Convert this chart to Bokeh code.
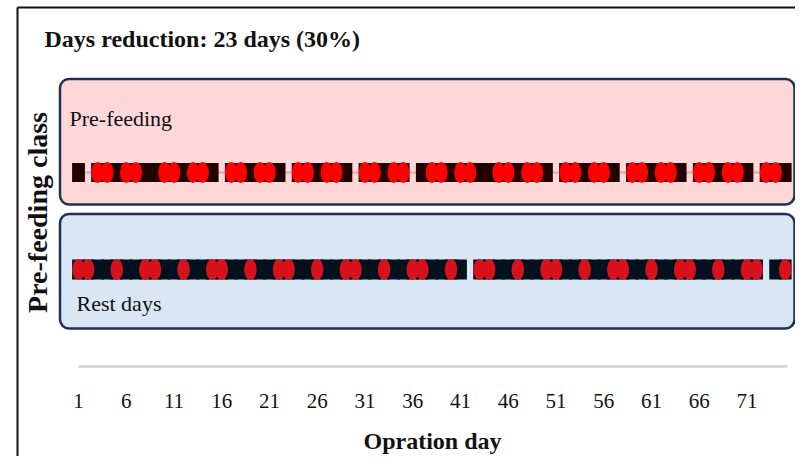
import math
from bokeh.plotting import figure
from bokeh.models import Range1d, FixedTicker
from bokeh.core.properties import value
from bokeh.embed import file_html
from bokeh.resources import INLINE

# ---------------- data ----------------
title_text = "Days reduction:  23 days (30%)"
y_axis_title = "Pre-feeding class"
x_axis_title = "Opration day"
class_labels = ["Pre-feeding", "Rest days"]
class_rows = [1, 0]

tick_days = [1, 6, 11, 16, 21, 26, 31, 36, 41, 46, 51, 56, 61, 66, 71]

# Pre-feeding class: red-marked days and other operation days
prefeed_marked = [3, 4, 6, 7, 10, 11, 13, 14, 17, 18, 20, 21, 24, 25, 27, 28,
                  31, 32, 34, 35, 38, 39, 41, 42, 45, 46, 48, 49, 52, 53, 55, 56,
                  59, 60, 62, 63, 66, 67, 69, 70, 73, 74]
prefeed_other = [1, 5, 8, 9, 12, 15, 19, 22, 26, 29, 33, 37, 40, 43, 44, 47,
                 50, 54, 57, 61, 64, 68, 71, 75]

# Rest-days class: red-marked rest days and other operation days
rest_marked = [1, 2, 5, 8, 9, 12, 15, 16, 19, 22, 23, 26, 29, 30, 33, 36, 37,
               40, 43, 44, 47, 50, 51, 54, 57, 58, 61, 64, 65, 68, 71, 72, 75]
rest_other = [3, 4, 6, 7, 10, 11, 13, 14, 17, 18, 20, 21, 24, 25, 27, 28, 31,
              32, 34, 35, 38, 39, 41, 45, 46, 48, 49, 52, 53, 55, 56, 59, 60,
              62, 63, 66, 67, 69, 70, 74]

FONT = "Liberation Serif"
OV = "overlay"

# ---------------- figure ----------------
p = figure(width=795, height=456, output_backend="svg", toolbar_location=None,
           x_range=Range1d(0.0576, 76.079), y_range=Range1d(-1.0412, 2.7732),
           y_axis_location=None, min_border_left=69, min_border_right=0,
           min_border_top=0, min_border_bottom=86)
p.outline_line_color = None
p.xgrid.visible = False
p.ygrid.visible = False
p.background_fill_color = "white"
p.border_fill_color = "white"

# x axis
ax = p.xaxis[0]
ax.ticker = FixedTicker(ticks=tick_days)
ax.axis_line_color = None
ax.major_tick_line_color = None
ax.minor_tick_line_color = None
ax.major_tick_out = 0
ax.major_tick_in = 0
ax.major_label_standoff = 23
ax.major_label_text_font = FONT
ax.major_label_text_font_size = "21px"
ax.major_label_text_color = "#111111"
ax.axis_label = x_axis_title
ax.axis_label_text_font = FONT
ax.axis_label_text_font_size = "24px"
ax.axis_label_text_font_style = "bold"
ax.axis_label_text_color = "#111111"
ax.axis_label_standoff = 17

# outer border (left and top)
p.segment(x0=[-5.387, -5.387], y0=[-2.07, 2.701], x1=[-5.387, 77.0], y1=[2.701, 2.701],
          line_color="#111111", line_width=2, level=OV)

# class panels
p.quad(left=[-0.937], right=[75.974], top=[1.964], bottom=[0.670],
       fill_color="#fed8d8", line_color="#1f3256", line_width=2.5, border_radius=9, level=OV)
p.quad(left=[-0.937], right=[75.974], top=[0.572], bottom=[-0.608],
       fill_color="#d9e7f5", line_color="#1f3256", line_width=2.5, border_radius=9, level=OV)

# thin connecting line for pre-feeding row
all_pre = sorted(prefeed_marked + prefeed_other)
p.line(x=[all_pre[0], all_pre[-1]], y=[class_rows[0]] * 2, line_color="#d6b4b6",
       line_width=2.5, level=OV)

# operation-day blocks
pre_days = prefeed_marked + prefeed_other
p.rect(x=pre_days, y=[class_rows[0]] * len(pre_days), width=12.8, height=19,
       width_units="screen", height_units="screen", fill_color="#220000", line_color=None, level=OV)
rest_days = rest_marked + rest_other
p.rect(x=rest_days, y=[class_rows[1]] * len(rest_days), width=12.8, height=20,
       width_units="screen", height_units="screen", fill_color="#02111d", line_color=None, level=OV)

# marked days
p.ellipse(x=prefeed_marked, y=[class_rows[0]] * len(prefeed_marked), width=12.5, height=21,
          width_units="screen", height_units="screen", fill_color="#ff0000", line_color=None, level=OV)
p.ellipse(x=rest_marked, y=[class_rows[1]] * len(rest_marked), width=12.5, height=21,
          width_units="screen", height_units="screen", fill_color="#d8121c", line_color=None, level=OV)

# class labels inside panels
p.text(x=[0.0576, 0.791], y=[1.557, -0.351], text=class_labels,
       text_font=value(FONT), text_font_size="22px", text_color="#111111",
       text_align="left", text_baseline="middle", level=OV)

# title and y-axis title
p.text(x=[-2.560], y=[2.381], text=[title_text], text_font=value(FONT),
       text_font_size="24px", text_font_style="bold", text_color="#111111",
       text_align="left", text_baseline="middle", level=OV)
p.text(x=[-3.293], y=[0.588], text=[y_axis_title], angle=math.pi / 2,
       text_font=value(FONT), text_font_size="28px", text_font_style="bold",
       text_color="#111111", text_align="center", text_baseline="middle", level=OV)

# axis baseline (light grey rule)
p.segment(x0=[tick_days[0]], y0=[-1.0], x1=[75.24], y1=[-1.0], line_color="#d9d9d9",
          line_width=3, level=OV)

open("out.html", "w").write(file_html(p, INLINE))
